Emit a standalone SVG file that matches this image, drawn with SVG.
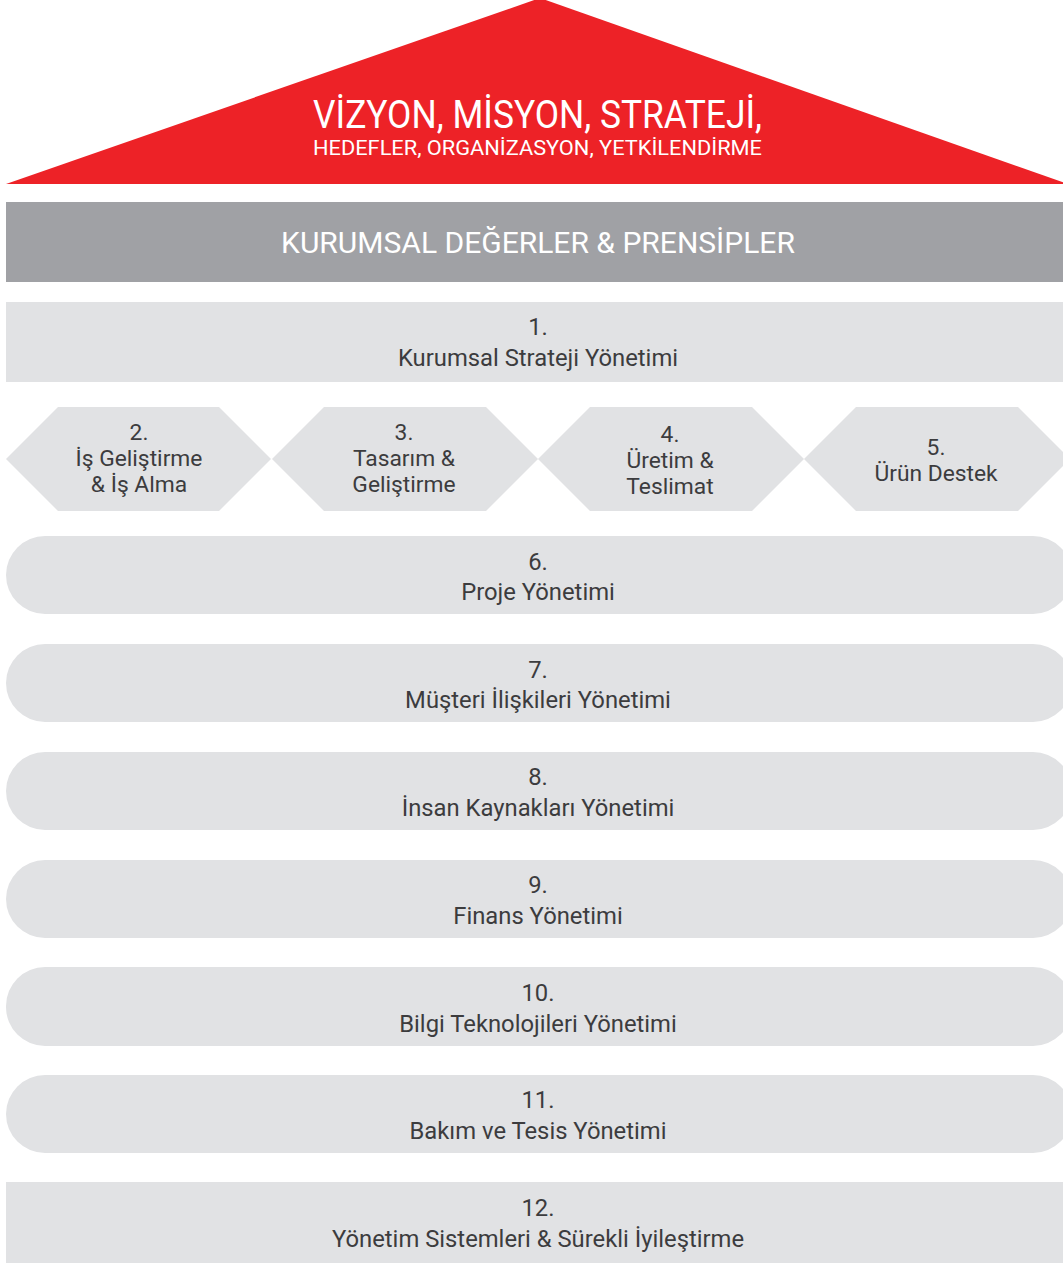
<svg xmlns="http://www.w3.org/2000/svg" width="1063" height="1263" viewBox="0 0 1063 1263">
<style>
.t{font-family:Roboto,"DejaVu Sans",sans-serif;font-size:23.8px;fill:#3c3c3e;text-anchor:middle}
.h{font-size:22.8px}
.w{font-family:Roboto,"DejaVu Sans",sans-serif;fill:#ffffff}
.box{fill:#e1e2e4}
</style>
<rect width="1063" height="1263" fill="#ffffff"/>
<g id="roof">
<polygon points="540,-2 1068,184 6,184" fill="#ed2227"/>
<text class="w" x="313" y="128" font-size="38" textLength="449" lengthAdjust="spacingAndGlyphs">VİZYON, MİSYON, STRATEJİ,</text>
<text class="w" x="313" y="155" font-size="21" textLength="449" lengthAdjust="spacingAndGlyphs">HEDEFLER, ORGANİZASYON, YETKİLENDİRME</text>
</g>
<g id="values">
<rect x="6" y="202" width="1057" height="80" fill="#a0a1a5"/>
<text class="w" x="538" y="253" font-size="30" text-anchor="middle">KURUMSAL DEĞERLER &amp; PRENSİPLER</text>
</g>
<g id="n1">
<rect class="box" x="6" y="302" width="1057" height="80"/>
<text class="t" x="538" y="335">1.</text>
<text class="t" x="538" y="366">Kurumsal Strateji Yönetimi</text>
</g>
<g id="n2">
<polygon class="box" points="6,459 58,407 219,407 271,459 219,511 58,511"/>
<text class="t h" x="139" y="440">2.</text>
<text class="t h" x="139" y="466">İş Geliştirme</text>
<text class="t h" x="139" y="492">&amp; İş Alma</text>
</g>
<g id="n3">
<polygon class="box" points="272,459 324,407 486,407 538,459 486,511 324,511"/>
<text class="t h" x="404" y="440">3.</text>
<text class="t h" x="404" y="466">Tasarım &amp;</text>
<text class="t h" x="404" y="492">Geliştirme</text>
</g>
<g id="n4">
<polygon class="box" points="538,459 590,407 752,407 804,459 752,511 590,511"/>
<text class="t h" x="670" y="442">4.</text>
<text class="t h" x="670" y="468">Üretim &amp;</text>
<text class="t h" x="670" y="494">Teslimat</text>
</g>
<g id="n5">
<polygon class="box" points="804,459 856,407 1018,407 1070,459 1018,511 856,511"/>
<text class="t h" x="936" y="455">5.</text>
<text class="t h" x="936" y="481">Ürün Destek</text>
</g>
<g id="n6">
<rect class="box" x="6" y="536" width="1066" height="78" rx="39"/>
<text class="t" x="538" y="570">6.</text>
<text class="t" x="538" y="600">Proje Yönetimi</text>
</g>
<g id="n7">
<rect class="box" x="6" y="644" width="1066" height="78" rx="39"/>
<text class="t" x="538" y="678">7.</text>
<text class="t" x="538" y="708">Müşteri İlişkileri Yönetimi</text>
</g>
<g id="n8">
<rect class="box" x="6" y="752" width="1066" height="78" rx="39"/>
<text class="t" x="538" y="785">8.</text>
<text class="t" x="538" y="816">İnsan Kaynakları Yönetimi</text>
</g>
<g id="n9">
<rect class="box" x="6" y="860" width="1066" height="78" rx="39"/>
<text class="t" x="538" y="893">9.</text>
<text class="t" x="538" y="924">Finans Yönetimi</text>
</g>
<g id="n10">
<rect class="box" x="6" y="967" width="1066" height="79" rx="39"/>
<text class="t" x="538" y="1001">10.</text>
<text class="t" x="538" y="1032">Bilgi Teknolojileri Yönetimi</text>
</g>
<g id="n11">
<rect class="box" x="6" y="1075" width="1066" height="78" rx="39"/>
<text class="t" x="538" y="1108">11.</text>
<text class="t" x="538" y="1139">Bakım ve Tesis Yönetimi</text>
</g>
<g id="n12">
<rect class="box" x="6" y="1182" width="1057" height="81"/>
<text class="t" x="538" y="1216">12.</text>
<text class="t" x="538" y="1247">Yönetim Sistemleri &amp; Sürekli İyileştirme</text>
</g>
<g id="connectors"></g>
</svg>
